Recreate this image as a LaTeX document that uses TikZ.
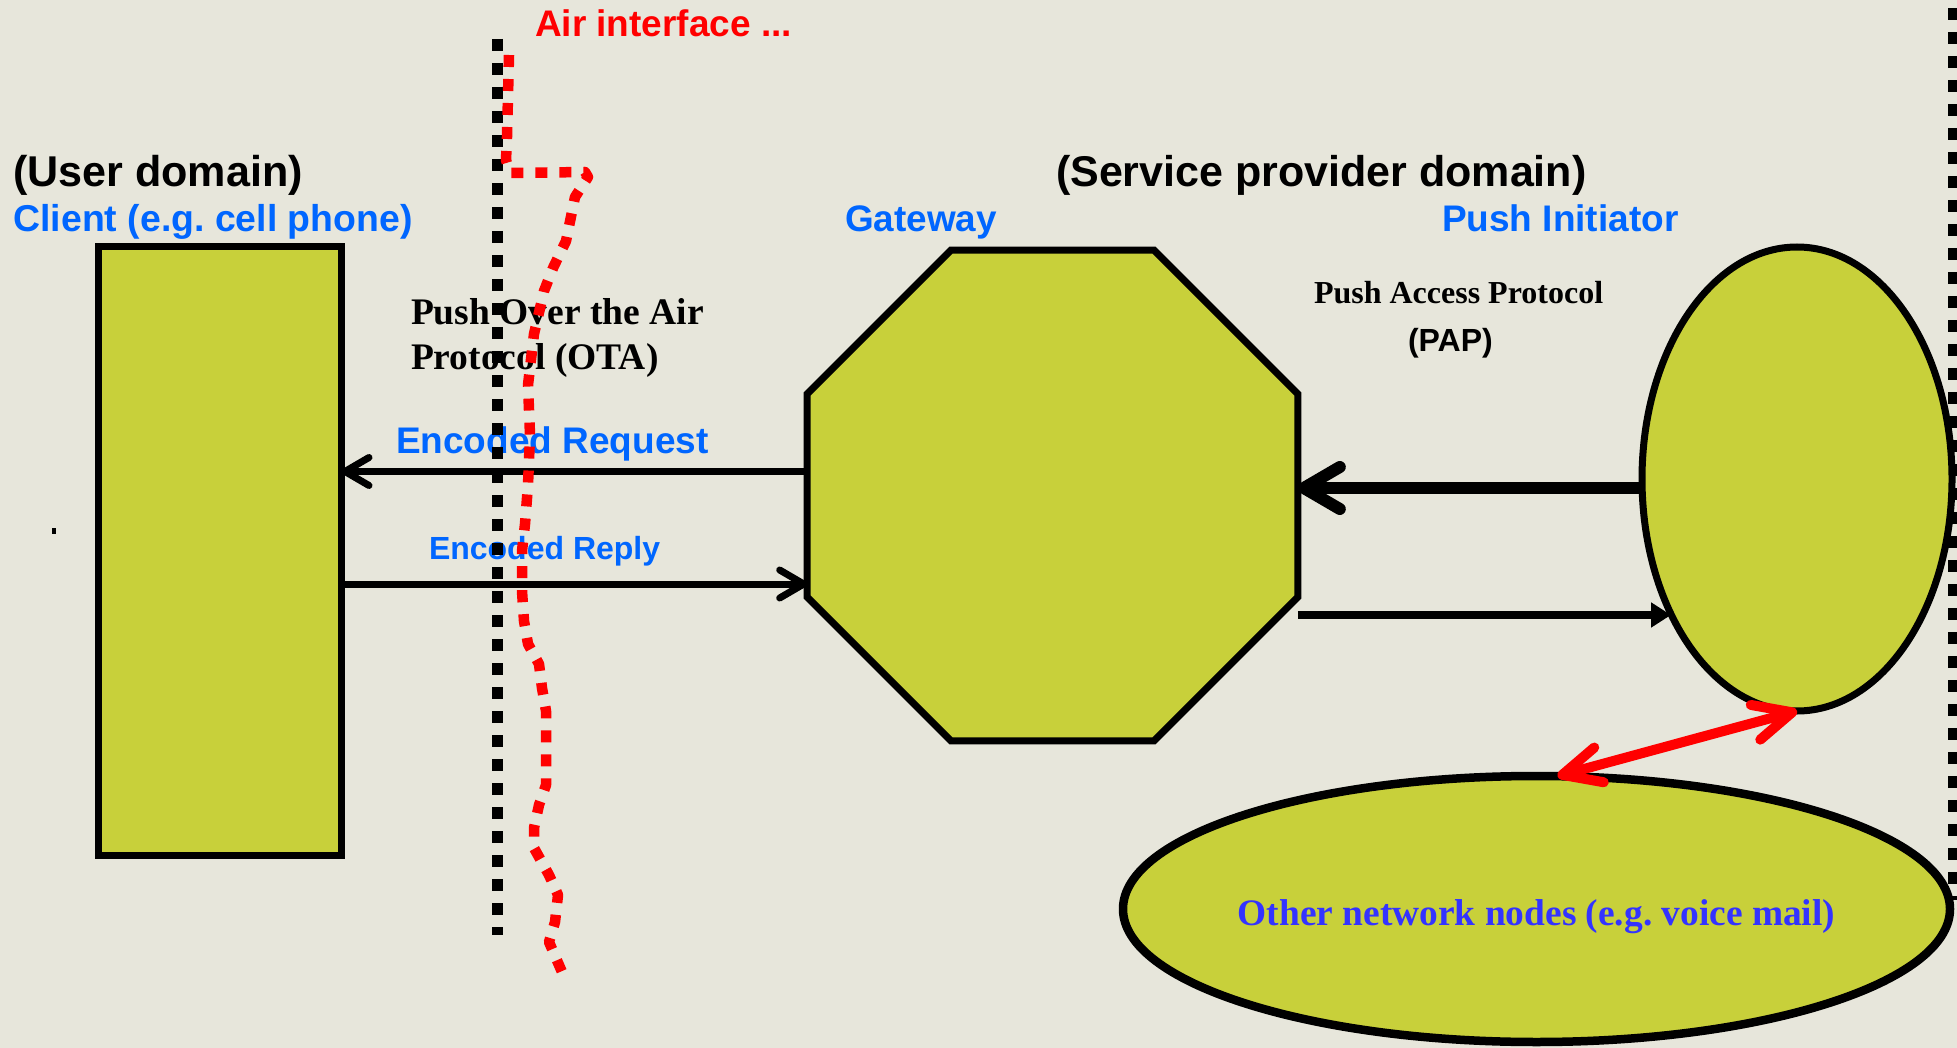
\documentclass[tikz,border=0pt]{standalone}
\usepackage{fontspec}
\setmainfont{Liberation Serif}
\newfontfamily\ari{Liberation Sans}
\newfontfamily\tnr{Liberation Serif}
\usetikzlibrary{arrows.meta,shapes.geometric}
\definecolor{bgc}{RGB}{231,230,219}
\definecolor{olivefill}{RGB}{200,208,58}
\definecolor{lblue}{RGB}{0,102,255}
\definecolor{vblue}{RGB}{51,51,255}
\frenchspacing
\tikzset{
  barbS/.tip={Straight Barb[length=24pt,width=28pt,line cap=round,line join=round]},
  barbL/.tip={Straight Barb[length=36pt,width=42pt,line cap=round,line join=round]},
  barbR/.tip={Straight Barb[length=38pt,width=36pt,line cap=round,line join=round]},
  triS/.tip={Triangle[length=20pt,width=24pt]}
}
\begin{document}
\begin{tikzpicture}[x=1pt,y=-1pt,
  shapebox/.style={draw=black, fill=olivefill, line width=7pt, inner sep=0pt, outer sep=0pt},
  lbl/.style={anchor=base west, inner sep=0pt, outer sep=0pt},
  sanslbl/.style={lbl, font=\ari\bfseries\fontsize{#1}{#1}\selectfont},
  seriflbl/.style={lbl, font=\tnr\bfseries\fontsize{#1}{#1}\selectfont},
  dotline/.style={line width=11pt, dash pattern=on 12pt off 12pt}
]
\fill[bgc] (0,0) rectangle (1957,1048);
\useasboundingbox (0,0) rectangle (1957,1048);

% right domain boundary
\coordinate (dom1) at (1953,8);
\coordinate (dom2) at (1953,900);
\draw[dotline] (dom1) -- (dom2);

% shapes
\node[shapebox, rectangle, minimum width=243pt, minimum height=608.5pt] (client) at (220,550.75) {};
\node[shapebox, regular polygon, regular polygon sides=8, minimum size=531pt] (gw) at (1052.5,495.5) {};
\node[shapebox, ellipse, minimum width=310pt, minimum height=464pt] (pi) at (1797,479) {};
\node[shapebox, ellipse, line width=8.5pt, minimum width=827pt, minimum height=266pt,
      text=vblue, text height=32pt, text depth=0pt, font=\tnr\bfseries\fontsize{37.4}{37.4}\selectfont]
      (other) at (1536.5,909) {\makebox[0pt][c]{Other network nodes (e.g. voice mail)}};

% labels
\node[sanslbl=37, text=red] (air) at (535,37) {Air interface ...};
\node[sanslbl=43.1] (ud) at (13,187) {(User domain)};
\node[sanslbl=37.4, text=lblue] (cl) at (13.5,232) {Client (e.g. cell phone)};
\node[sanslbl=36.9, text=lblue] (gwl) at (845,232) {Gateway};
\node[sanslbl=43] (spd) at (1056,187) {(Service provider domain)};
\node[sanslbl=37, text=lblue] (pil) at (1442,232) {Push Initiator};
\node[seriflbl=37.5] (ota1) at (411,325) {Push Over the Air};
\node[seriflbl=37.5] (ota2) at (411,370) {Protocol (OTA)};
\node[seriflbl=32] (pap1) at (1314,304) {Push Access Protocol};
\node[sanslbl=32] (pap2) at (1408,352) {(PAP)};
\node[sanslbl=37, text=lblue] (reql) at (396,453) {Encoded Request};
\node[sanslbl=32, text=lblue] (repl) at (429,559) {Encoded Reply};

% small dot
\fill (52,528) rectangle (56,534);

% connectors
\coordinate (yreq) at (0,471.5);
\coordinate (yrep) at (0,584);
\coordinate (ypap) at (0,488);
\coordinate (ylow) at (0,615);
\draw[line width=7pt, -barbS] (gw.west |- yreq) -- (client.east |- yreq);
\draw[line width=7pt, -barbS] (client.east |- yrep) -- (gw.west |- yrep);
\draw[line width=12pt, -barbL] (pi.west |- ypap) -- (gw.east |- ypap);
\draw[line width=8pt, -triS] (gw.east |- ylow) -- (ylow -| pi.227);

% air interface boundary
\coordinate (air1) at (497.5,39);
\coordinate (air2) at (497.5,935);
\draw[dotline] (air1) -- (air2);

% red air interface wave
\draw[red, line width=10.5pt, dash pattern=on 12pt off 12pt, line join=round]
  (509,55) -- (507,137) -- (506,160) -- (510,173) -- (585,172) -- (588,177) -- (575,197)
  -- (566,241) -- (553,268) -- (544,291) -- (534,334) -- (528,385) -- (530,435)
  -- (528,485) -- (525,524) -- (522,551) -- (522,591) -- (524,621) -- (528,644)
  -- (539,664) -- (542,688) -- (546,711) -- (546,758) -- (546,785) -- (539,805)
  -- (534,828) -- (534,848) -- (549,875) -- (558,895) -- (555,922) -- (549,942)
  -- (562,972);

% red double arrow
\draw[red, line width=10pt, line cap=round, barbR-barbR] (other.81) -- (pi.south);
\end{tikzpicture}
\end{document}
